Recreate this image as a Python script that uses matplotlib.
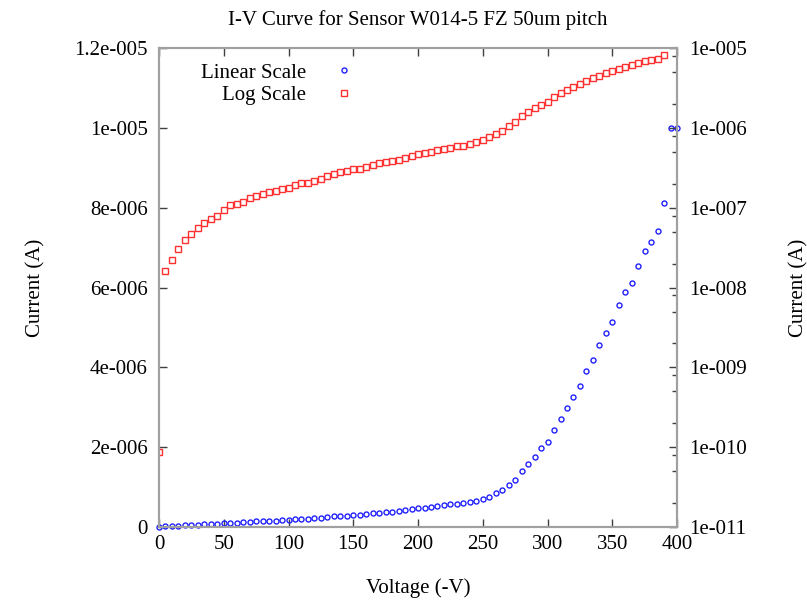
import numpy as np
import matplotlib
matplotlib.use("Agg")
import matplotlib.pyplot as plt
from matplotlib.ticker import FixedLocator, FuncFormatter

# bias voltage (-V), every 5 V
voltage = np.arange(0, 405, 5)

# leakage current (A)
current = np.array([
    8.7e-11, 1.60e-8, 2.19e-8, 3.01e-8, 3.90e-8, 4.72e-8, 5.52e-8, 6.37e-8,
    7.21e-8, 7.80e-8, 9.27e-8, 1.07e-7, 1.11e-7, 1.19e-7, 1.33e-7, 1.39e-7,
    1.51e-7, 1.60e-7, 1.62e-7, 1.70e-7, 1.77e-7, 1.91e-7, 2.04e-7, 2.06e-7,
    2.20e-7, 2.33e-7, 2.47e-7, 2.64e-7, 2.78e-7, 2.86e-7, 3.03e-7, 3.11e-7,
    3.26e-7, 3.40e-7, 3.60e-7, 3.77e-7, 3.88e-7, 3.99e-7, 4.23e-7, 4.40e-7,
    4.67e-7, 4.89e-7, 5.08e-7, 5.24e-7, 5.43e-7, 5.70e-7, 5.87e-7, 6.04e-7,
    6.33e-7, 6.59e-7, 6.98e-7, 7.62e-7, 8.45e-7, 9.31e-7, 1.06e-6, 1.19e-6,
    1.41e-6, 1.58e-6, 1.76e-6, 1.97e-6, 2.14e-6, 2.43e-6, 2.71e-6, 2.98e-6,
    3.27e-6, 3.54e-6, 3.90e-6, 4.18e-6, 4.55e-6, 4.86e-6, 5.15e-6, 5.57e-6,
    5.90e-6, 6.12e-6, 6.55e-6, 6.93e-6, 7.14e-6, 7.43e-6, 8.11e-6, 1.0e-5,
    1.0e-5,
])

lin_ticks = [0, 2e-6, 4e-6, 6e-6, 8e-6, 1e-5, 1.2e-5]
lin_labels = ["0", "2e-006", "4e-006", "6e-006", "8e-006", "1e-005", "1.2e-005"]
log_ticks = [1e-11, 1e-10, 1e-9, 1e-8, 1e-7, 1e-6, 1e-5]
log_labels = ["1e-011", "1e-010", "1e-009", "1e-008", "1e-007", "1e-006", "1e-005"]

plt.rcParams["font.family"] = ["Liberation Serif", "DejaVu Serif"]
fs = 15

fig = plt.figure(figsize=(8.07, 6.03), dpi=100)
ax = fig.add_axes([0.197, 0.126, 0.642, 0.794])
ax2 = ax.twinx()

frame = "#a0a0a0"
tickc = "#404040"

l1, = ax.plot(voltage, current, linestyle="none", marker="o", markersize=3.6,
              markerfacecolor="none", markeredgecolor="#2020ff", markeredgewidth=1.0,
              clip_on=False, label="Linear Scale")

# points at the top of the log range are out of range there
on_log = current < 1e-5
l2, = ax2.plot(voltage[on_log], current[on_log], linestyle="none", marker="s", markersize=4.2,
               markerfacecolor="none", markeredgecolor="#ff3030", markeredgewidth=1.0,
               label="Log Scale")

ax.set_xlim(0, 400)
ax.set_ylim(0, 1.2e-5)
ax2.set_yscale("log")
ax2.set_ylim(1e-11, 1e-5)

ax.set_xticks(np.arange(0, 401, 50))
ax.set_yticks(lin_ticks)
ax.set_yticklabels(lin_labels)
ax2.yaxis.set_major_locator(FixedLocator(log_ticks))
ax2.yaxis.set_major_formatter(FuncFormatter(lambda v, p: log_labels[int(round(np.log10(v))) + 11]))
minor = [m * 10.0 ** e for e in range(-11, -5) for m in (2, 5, 8)]
ax2.yaxis.set_minor_locator(FixedLocator(minor))
ax2.yaxis.set_minor_formatter(FuncFormatter(lambda v, p: ""))

ax.tick_params(axis="x", direction="in", length=6, width=1, color=tickc,
               top=True, pad=6, labelsize=fs)
ax.tick_params(axis="y", direction="in", length=6, width=1, color=tickc,
               pad=8, labelsize=fs)
ax2.tick_params(axis="y", which="major", direction="in", length=6, width=1, color=tickc,
                pad=9, labelsize=fs)
ax2.tick_params(axis="y", which="minor", direction="in", length=3.5, width=1, color=tickc)

for a in (ax, ax2):
    for s in a.spines.values():
        s.set_color(frame)
        s.set_linewidth(1.5)

ax.set_title("I-V Curve for Sensor W014-5 FZ 50um pitch", fontsize=fs, pad=17)
ax.set_xlabel("Voltage (-V)", fontsize=fs, labelpad=17)
ax.set_ylabel("Current (A)", fontsize=fs, labelpad=21)
ax2.set_ylabel("Current (A)", fontsize=fs, labelpad=30)

ax2.legend(handles=[l1, l2], loc="upper left", bbox_to_anchor=(0.081, 0.969),
           frameon=False, markerfirst=False, alignment="right",
           borderpad=0, borderaxespad=0,
           handlelength=2.0, handletextpad=0.8, labelspacing=0.15, fontsize=fs)

fig.savefig("out.png", dpi=100)
